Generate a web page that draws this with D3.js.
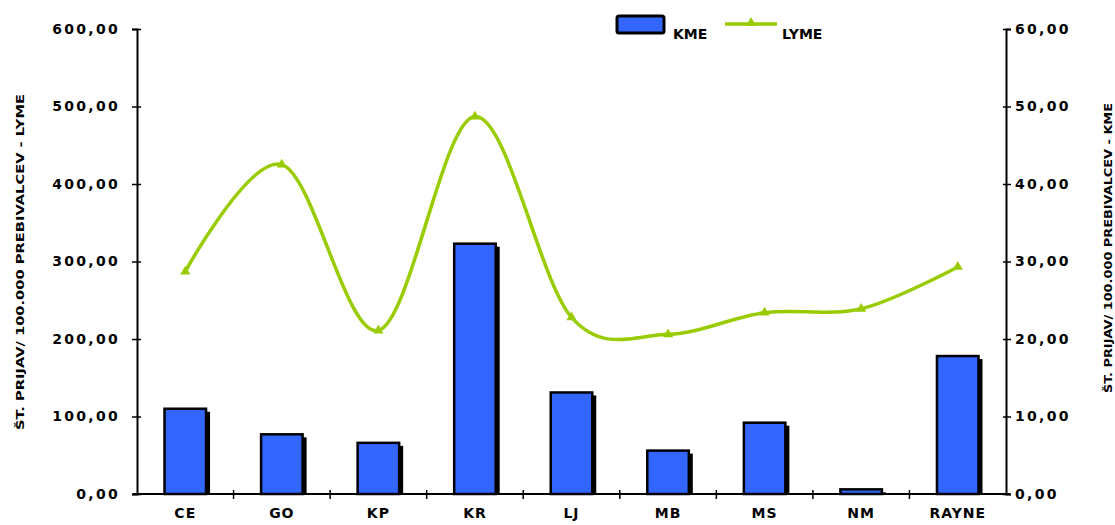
<!DOCTYPE html>
<html>
<head>
<meta charset="utf-8">
<script src="https://cdn.jsdelivr.net/npm/d3@7"></script>
<style>
  body { margin: 0; background: #fff; }
  text { font-family: "DejaVu Sans", Verdana, sans-serif; font-weight: bold; }
</style>
</head>
<body>
<script>
var regions = ["CE", "GO", "KP", "KR", "LJ", "MB", "MS", "NM", "RAYNE"];
var kme = [11.0, 7.7, 6.6, 32.3, 13.1, 5.6, 9.2, 0.6, 17.8];
var lyme = [287, 425, 211, 487, 228, 206, 234, 239, 293];
var leftTicks = [0, 100, 200, 300, 400, 500, 600];
var rightTicks = [0, 10, 20, 30, 40, 50, 60];
var leftTitle = "ŠT. PRIJAV/ 100.000 PREBIVALCEV - LYME";
var rightTitle = "ŠT. PRIJAV/ 100.000 PREBIVALCEV - KME";

function init(){
  var w = 1115, h = 525;
  var left = 137, right = 1006, top = 29, bottom = 494;
  var blue = "#3366ff", green = "#99cc00";

  var svg = d3.select("body").append("svg")
              .attr("width", w)
              .attr("height", h);

  var x = d3.scaleBand().domain(regions).range([left, right]).padding(0);
  var yL = d3.scaleLinear().domain([0, 600]).range([bottom, top]);
  var yR = d3.scaleLinear().domain([0, 60]).range([bottom, top]);
  var fmt = function(d){ return d3.format(".2f")(d).replace(".", ","); };

  var barW = x.bandwidth() * 0.43;
  var cx = function(d){ return x(d) + x.bandwidth() / 2; };

  // bar shadows then bars
  svg.selectAll("rect.shadow")
     .data(regions)
     .enter()
     .append("rect")
     .attr("class", "shadow")
     .attr("x", function(d){ return cx(d) - barW / 2 + 4; })
     .attr("y", function(d, i){ return yR(kme[i]) + 3; })
     .attr("width", barW)
     .attr("height", function(d, i){ return Math.max(0, bottom - yR(kme[i]) - 3); })
     .attr("fill", "#000");

  svg.selectAll("rect.bar")
     .data(regions)
     .enter()
     .append("rect")
     .attr("class", "bar")
     .attr("x", function(d){ return cx(d) - barW / 2; })
     .attr("y", function(d, i){ return yR(kme[i]); })
     .attr("width", barW)
     .attr("height", function(d, i){ return bottom - yR(kme[i]); })
     .attr("fill", blue)
     .attr("stroke", "#000")
     .attr("stroke-width", 2.5);

  // LYME line
  var line = d3.line()
               .x(function(d, i){ return cx(regions[i]); })
               .y(function(d){ return yL(d); })
               .curve(d3.curveCardinal.tension(0));
  svg.append("path")
     .datum(lyme)
     .attr("d", line)
     .attr("fill", "none")
     .attr("stroke", green)
     .attr("stroke-width", 3.5);

  var tri = d3.symbol().type(d3.symbolTriangle).size(45);
  svg.selectAll("path.mark")
     .data(lyme)
     .enter()
     .append("path")
     .attr("class", "mark")
     .attr("d", tri)
     .attr("transform", function(d, i){ return "translate(" + cx(regions[i]) + "," + yL(d) + ")"; })
     .attr("fill", green);

  // axes
  var axL = svg.append("g")
     .attr("transform", "translate(" + left + ",0)")
     .call(d3.axisLeft(yL).tickValues(leftTicks).tickFormat(fmt).tickSize(5).tickPadding(12));
  axL.selectAll(".tick line").attr("x1", 4);

  var axR = svg.append("g")
     .attr("transform", "translate(" + right + ",0)")
     .call(d3.axisRight(yR).tickValues(rightTicks).tickFormat(fmt).tickSize(5).tickPadding(4));
  axR.selectAll(".tick line").attr("x1", -3);

  var axB = svg.append("g")
     .attr("transform", "translate(0," + bottom + ")")
     .call(d3.axisBottom(x).tickSize(0).tickPadding(14));
  axB.selectAll(".tick text").attr("font-size", 14).attr("dy", "0.71em");

  svg.append("g").selectAll("line")
     .data(regions.slice(1))
     .enter()
     .append("line")
     .attr("x1", function(d){ return x(d); })
     .attr("x2", function(d){ return x(d); })
     .attr("y1", bottom - 4)
     .attr("y2", bottom + 5)
     .attr("stroke", "#000")
     .attr("stroke-width", 1.5);

  svg.selectAll(".domain").attr("stroke", "#000").attr("stroke-width", 2);
  svg.selectAll(".tick line").attr("stroke", "#000").attr("stroke-width", 1.5);
  axL.selectAll(".tick text").attr("font-size", 14).attr("letter-spacing", 2.3).attr("fill", "#000");
  axR.selectAll(".tick text").attr("font-size", 14).attr("letter-spacing", 2.3).attr("fill", "#000");
  axB.selectAll(".tick text").attr("letter-spacing", 1).attr("fill", "#000");
  axB.select(".domain").attr("d", "M" + (left - 4) + ",0H" + (right + 4));

  // axis titles
  svg.append("text")
     .attr("transform", "translate(24,262) rotate(-90)")
     .attr("text-anchor", "middle")
     .attr("font-size", 11)
     .attr("textLength", 336)
     .attr("lengthAdjust", "spacingAndGlyphs")
     .text(leftTitle);
  svg.append("text")
     .attr("transform", "translate(1112,248) rotate(-90)")
     .attr("text-anchor", "middle")
     .attr("font-size", 11)
     .attr("textLength", 290)
     .attr("lengthAdjust", "spacingAndGlyphs")
     .text(rightTitle);

  // legend
  var lg = svg.append("g");
  lg.append("rect")
    .attr("x", 617).attr("y", 16).attr("width", 47).attr("height", 17)
    .attr("rx", 2)
    .attr("fill", blue).attr("stroke", "#000").attr("stroke-width", 3);
  lg.append("text").attr("x", 673).attr("y", 39).attr("font-size", 14).text("KME");
  lg.append("line")
    .attr("x1", 725).attr("x2", 777).attr("y1", 24).attr("y2", 24)
    .attr("stroke", green).attr("stroke-width", 3.5);
  lg.append("path").attr("d", tri).attr("transform", "translate(751,23)").attr("fill", green);
  lg.append("text").attr("x", 782).attr("y", 39).attr("font-size", 14).text("LYME");
}
window.onload = init;
</script>
</body>
</html>
